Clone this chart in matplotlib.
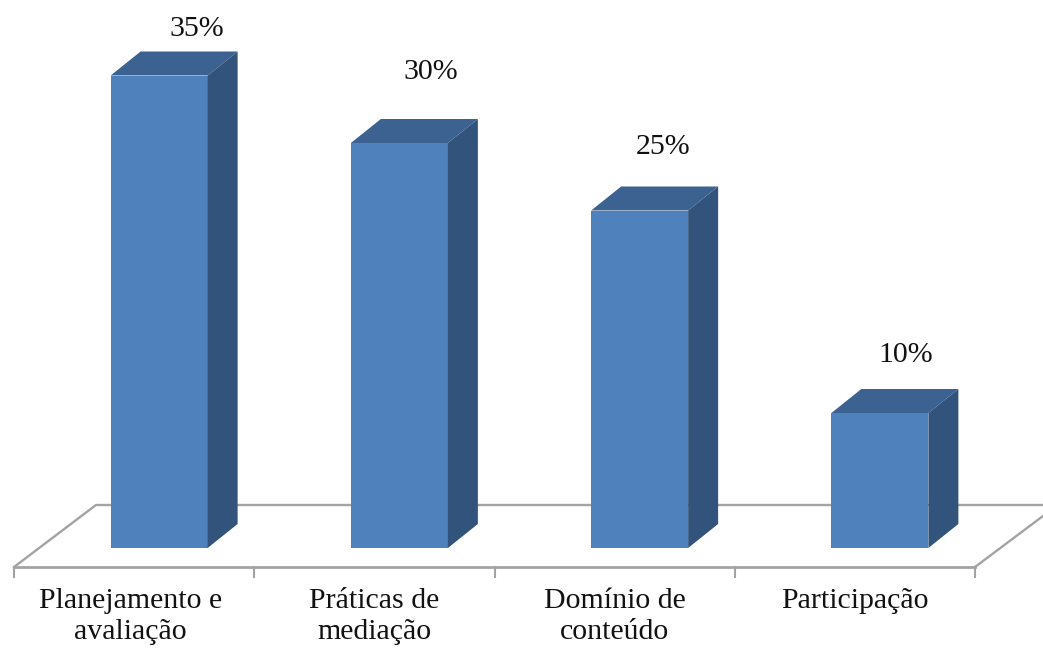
import matplotlib
matplotlib.use('Agg')
import matplotlib.pyplot as plt
from matplotlib.patches import Polygon

labels = ['Planejamento e\navaliação', 'Práticas de\nmediação', 'Domínio de\nconteúdo', 'Participação']
values = [35, 30, 25, 10]
value_labels = ['35%', '30%', '25%', '10%']

W, H = 1043, 650
slot = 240.25      # pixels per category
unit = 13.5        # pixels per percent
x0_px, base_px = 14, 548

# hand placed label offsets from the bar, in pixels
label_dx = [38, 31, 23, 26]
label_dy = [47, 71, 63, 58]
cat_dx = [-4, 0, 0, 0]

plt.rcParams['font.family'] = ['Liberation Serif', 'DejaVu Serif']

fig = plt.figure(figsize=(W / 100, H / 100), dpi=100)
ax = fig.add_axes([0, 0, 1, 1])
ax.set_xlim(-x0_px / slot, (W - x0_px) / slot)
ax.set_ylim((base_px - H) / unit, base_px / unit)
ax.axis('off')

dx = 30 / slot     # depth of the bars
dy = 24 / unit
bar_w = 97 / slot
centers = [i + 0.5 + 25 / slot for i in range(len(values))]

# floor
floor_front = -19 / unit
floor_back = 43 / unit
floor_dx = 82 / slot
grey = '#a3a3a3'
ax.plot([0, len(values)], [floor_front, floor_front], color=grey, lw=2, zorder=1)
ax.plot([0, floor_dx, (W - x0_px) / slot], [floor_front, floor_back, floor_back], color=grey, lw=1.7, zorder=1)
ax.plot([len(values), len(values) + 68 / slot], [floor_front, floor_front + 51 / unit], color=grey, lw=1.7, zorder=1)
for i in range(len(values) + 1):
    ax.plot([i, i], [floor_front, floor_front - 10 / unit], color=grey, lw=1.5, zorder=1)

# bars
ax.bar(centers, values, width=bar_w, color='#4f81bd', zorder=3)
for i, (c, v, vl, lab) in enumerate(zip(centers, values, value_labels, labels)):
    l, r = c - bar_w / 2, c + bar_w / 2
    ax.add_patch(Polygon([(l, v), (l + dx, v + dy), (r + dx, v + dy), (r, v)],
                         closed=True, fc='#3b6291', ec='none', zorder=3))
    ax.add_patch(Polygon([(r, 0), (r + dx, dy), (r + dx, v + dy), (r, v)],
                         closed=True, fc='#32547c', ec='none', zorder=3))
    ax.text(c + label_dx[i] / slot, v + label_dy[i] / unit, vl, ha='center', va='center',
            fontsize=21.5, color='#111111')
    ax.text(i + 0.5 + cat_dx[i] / slot, floor_front - 21 / unit, lab, ha='center', va='top',
            fontsize=21.5, color='#111111', linespacing=1.27)

fig.savefig('out.png', dpi=100, facecolor='white')
